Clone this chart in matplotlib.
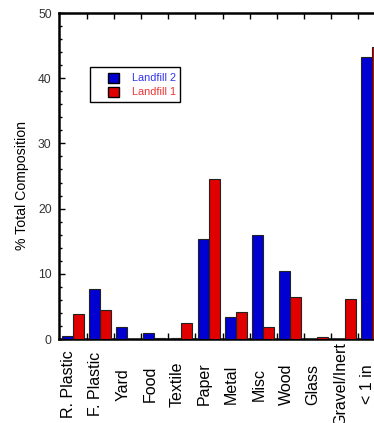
import matplotlib
matplotlib.use('Agg')
import matplotlib.pyplot as plt
from matplotlib.patches import Rectangle
from matplotlib.ticker import MultipleLocator
import numpy as np

plt.rcParams['font.family'] = ['Liberation Sans', 'DejaVu Sans']

# waste categories and % composition
categories = ['R. Plastic', 'F. Plastic', 'Yard', 'Food', 'Textile', 'Paper',
              'Metal', 'Misc', 'Wood', 'Glass', 'Gravel/Inert', '< 1 in']
landfill2 = [0.4, 7.6, 1.8, 0.9, 0.2, 15.4, 3.3, 16.0, 10.5, 0.0, 0.0, 43.2]
landfill1 = [3.8, 4.4, 0.0, 0.1, 2.5, 24.6, 4.1, 1.9, 6.4, 0.3, 6.1, 44.8]
series_names = ['Landfill 2', 'Landfill 1']

blue = '#0000d0'
red = '#e00000'

W, H = 374, 423
fig = plt.figure(figsize=(W / 100, H / 100), dpi=100)
# axes run a bit past the right edge, like the original (clipped last group)
ax = fig.add_axes([59.3 / W, 1 - 339 / H, 326.4 / W, 326 / H])

x = np.arange(len(categories))
w = 0.4
ax.bar(x + 0.09, landfill2, width=w, align='edge', color=blue,
       edgecolor='#222222', linewidth=0.8, zorder=3)
ax.bar(x + 0.49, landfill1, width=w, align='edge', color=red,
       edgecolor='#222222', linewidth=0.8, zorder=3)

ax.set_xlim(0, len(categories))
ax.set_ylim(0, 50)

for s in ['left', 'bottom', 'top']:
    ax.spines[s].set_linewidth(1.8)
ax.spines['right'].set_visible(False)

# x ticks at group boundaries, labels at group centres
ax.set_xticks(np.arange(1, len(categories)))
ax.set_xticks(x + 0.5, minor=True)
ax.set_xticklabels([])
ax.set_xticklabels(categories, minor=True, rotation=90, fontsize=11.5,
                   va='baseline', ha='center', rotation_mode='anchor')
ax.tick_params(axis='x', which='major', direction='in', length=4.5,
               width=1, top=True, bottom=True)
ax.tick_params(axis='x', which='minor', length=0, pad=32.5, colors='black')

ax.yaxis.set_major_locator(MultipleLocator(10))
ax.yaxis.set_minor_locator(MultipleLocator(2))
ax.tick_params(axis='y', which='major', direction='in', length=4.5, width=1,
               labelsize=8.7, pad=5.5, labelcolor='#333333')
ax.tick_params(axis='y', which='minor', direction='in', length=2.5, width=1)

ax.set_ylabel('% Total Composition', fontsize=10.2)
ax.yaxis.set_label_coords(-0.092, 0.47)

# legend box drawn by hand (pixel layout of the original)
def fx(px):
    return px / W

def fy(py):
    return 1 - py / H

fig.patches.append(Rectangle((fx(90), fy(102)), fx(180) - fx(90),
                             fy(67) - fy(102), transform=fig.transFigure,
                             facecolor='white', edgecolor='black',
                             linewidth=1.0, zorder=5))
for i, (name, col, tcol) in enumerate(zip(series_names, [blue, red],
                                          ['#3333ee', '#ee3333'])):
    top = 73.3 + i * 13.3
    fig.patches.append(Rectangle((fx(108.3), fy(top + 10)), fx(10.5),
                                 fy(top) - fy(top + 10),
                                 transform=fig.transFigure, facecolor=col,
                                 edgecolor='black', linewidth=1.0, zorder=6))
    fig.text(fx(132), fy(top + 5), name, color=tcol, fontsize=7.8,
             ha='left', va='center', zorder=6)

fig.savefig('out.png', dpi=100)
